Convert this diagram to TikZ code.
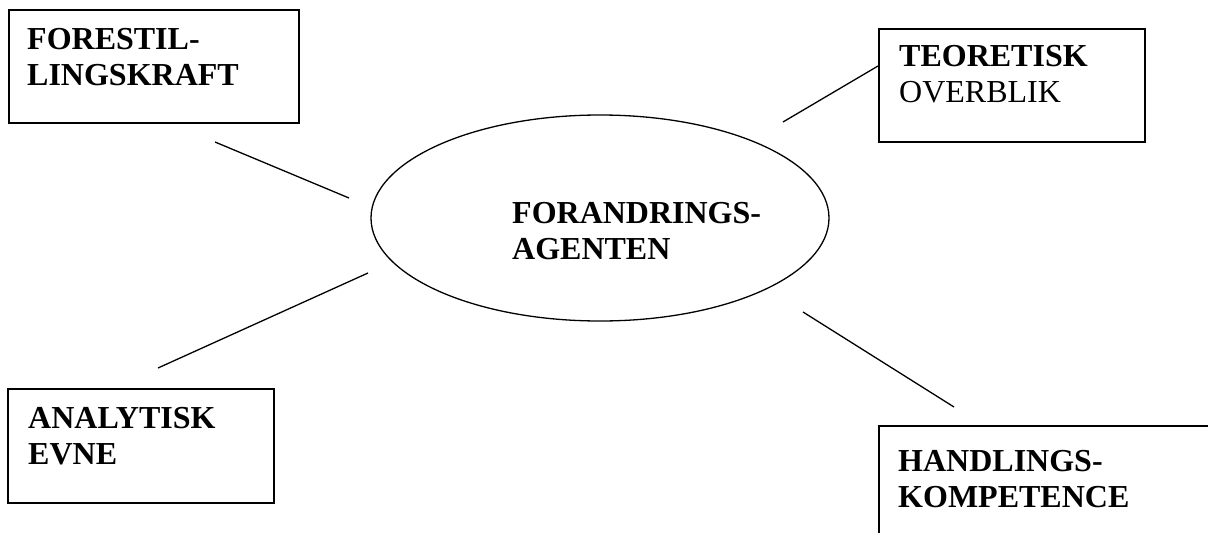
\documentclass[tikz,border=0pt]{standalone}
\usepackage{fontspec}
\setmainfont{Liberation Serif}
\usetikzlibrary{shapes.geometric}
\tikzset{
  kasse/.style={draw, rectangle, line width=1.6pt, inner sep=0pt, anchor=north west},
  tekst/.style={anchor=north west, align=left, inner sep=0pt, font=\fontsize{32}{36}\selectfont\bfseries},
  streg/.style={line width=1.3pt},
}
\begin{document}
\begin{tikzpicture}[x=1pt,y=-1pt]
	\clip (0,0) rectangle (1208,533);

	\node[kasse, minimum width=290pt, minimum height=113pt] (forestil) at (8,9) {};
	\node[kasse, minimum width=266pt, minimum height=113pt] (teoretisk) at (878,28) {};
	\node[kasse, minimum width=266pt, minimum height=114pt] (analytisk) at (7,388) {};
	\node[kasse, minimum width=400pt, minimum height=200pt] (handlings) at (878,425) {};
	\node[draw, ellipse, streg, inner sep=0pt, minimum width=458pt, minimum height=206pt] (agent) at (600,218) {};

	\node[tekst] (forestiltxt) at (27,28) {FORESTIL-\\LINGSKRAFT};
	\node[tekst] (teoretisktxt) at (899,45) {TEORETISK\\\textmd{OVERBLIK}};
	\node[tekst] (analytisktxt) at (28,407) {ANALYTISK\\EVNE};
	\node[tekst] (handlingstxt) at (898,450) {HANDLINGS-\\KOMPETENCE};
	\node[tekst] (agenttxt) at (512,202) {FORANDRINGS-\\AGENTEN};

	\coordinate (f1) at (215,142);
	\coordinate (f2) at (349,198);
	\coordinate (t1) at (783,122);
	\coordinate (t2) at (878,66);
	\coordinate (a1) at (158,368);
	\coordinate (a2) at (368,273);
	\coordinate (h1) at (803,312);
	\coordinate (h2) at (954,407);

	\draw[streg] (f1) -- (f2);
	\draw[streg] (t1) -- (t2);
	\draw[streg] (a1) -- (a2);
	\draw[streg] (h1) -- (h2);
\end{tikzpicture}
\end{document}
